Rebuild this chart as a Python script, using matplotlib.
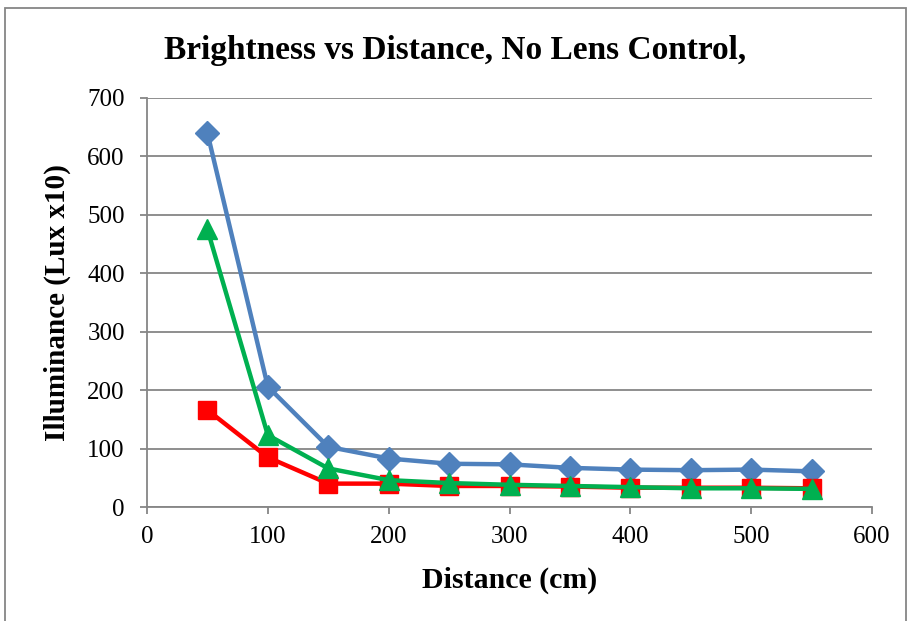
import matplotlib
matplotlib.use("Agg")
import matplotlib.pyplot as plt
from matplotlib.patches import Rectangle

# Measured illuminance (lux x10) at each distance (cm)
distance_cm = [50, 100, 150, 200, 250, 300, 350, 400, 450, 500, 550]
series_blue = [640, 206, 103, 83, 74, 73, 67, 64, 63, 64, 61]
series_red = [166, 85, 40, 40, 36, 36, 35, 33, 33, 33, 32]
series_green = [475, 123, 66, 46, 41, 38, 36, 34, 32, 32, 31]

x_ticks = [0, 100, 200, 300, 400, 500, 600]
y_ticks = [0, 100, 200, 300, 400, 500, 600, 700]

title_text = "Brightness vs Distance, No Lens Control,"
x_label = "Distance (cm)"
y_label = "Illuminance (Lux x10)"

serif = ["Liberation Serif", "DejaVu Serif"]
plt.rcParams["font.family"] = serif

fig = plt.figure(figsize=(9.11, 6.21), dpi=100)
ax = fig.add_axes([147 / 911, 1 - 507 / 621, 725 / 911, 409 / 621])

grey = "#868686"

ax.plot(distance_cm, series_blue, color="#4F81BD", lw=3.2, marker="D",
        markersize=12, zorder=3)
ax.plot(distance_cm, series_red, color="#FF0000", lw=3.2, marker="s",
        markersize=13, zorder=4)
ax.plot(distance_cm, series_green, color="#00B050", lw=3.2, marker="^",
        markersize=14, zorder=5)

ax.set_xlim(0, 600)
ax.set_ylim(0, 700)
ax.set_xticks(x_ticks)
ax.set_yticks(y_ticks)
ax.grid(axis="y", color=grey, lw=1.3)
ax.set_axisbelow(True)

for side in ("top", "right"):
    ax.spines[side].set_visible(False)
for side in ("left", "bottom"):
    ax.spines[side].set_color(grey)
    ax.spines[side].set_linewidth(1.3)

ax.tick_params(axis="both", direction="out", length=5, width=1.3,
               color=grey, labelsize=18, labelcolor="black")
ax.tick_params(axis="x", pad=9)
ax.tick_params(axis="y", pad=11)

ax.set_xlabel(x_label, fontsize=21.5, fontweight="bold")
ax.set_ylabel(y_label, fontsize=21, fontweight="bold")
ax.xaxis.set_label_coords(0.5, (507 - 580) / 409)
ax.yaxis.set_label_coords((57 - 147) / 725, 0.5)
ax.xaxis.label.set_va("center")
ax.yaxis.label.set_va("center")
fig.text(0.5, 1 - 50 / 621, title_text, ha="center", va="center",
         fontsize=24, fontweight="bold")

# Outer chart frame
fig.patches.append(Rectangle((5 / 911, -0.05), 901 / 911, 1.05 - 8 / 621,
                             transform=fig.transFigure, fill=False,
                             edgecolor=grey, lw=1.3))

fig.savefig("out.png", dpi=100)
